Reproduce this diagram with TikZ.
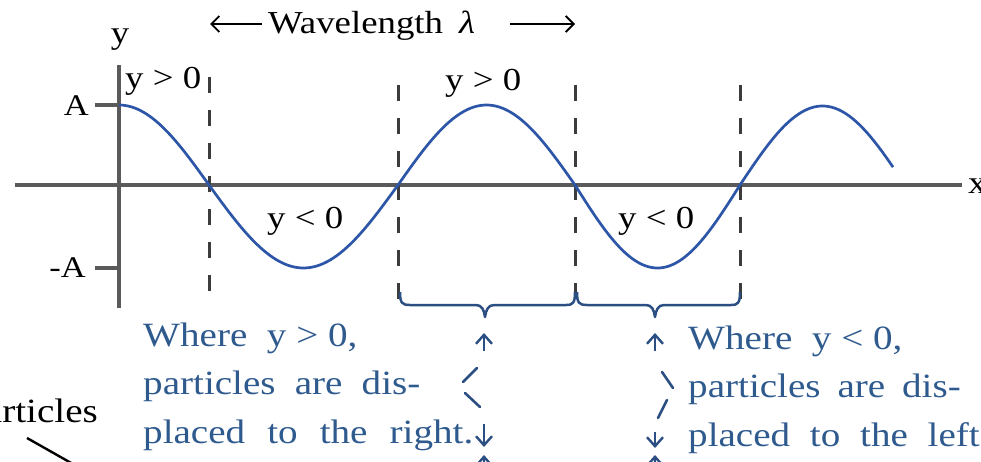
\documentclass[tikz,border=0pt]{standalone}
\usepackage{fontspec}
\setmainfont{Liberation Serif}
\usetikzlibrary{arrows.meta}
\definecolor{wblue}{HTML}{2D56A8}
\definecolor{tblue}{HTML}{2F5A8E}
\definecolor{bblue}{HTML}{2B4F82}
\definecolor{axgray}{HTML}{5A5A5A}
\definecolor{dgray}{HTML}{3C3C3C}
\newcommand\sx[1]{\scalebox{1.15}[1]{#1}}
\tikzset{
  axisline/.style={axgray,line width=3.6pt},
  guide/.style={dgray,line width=3pt,dash pattern=on 16pt off 17pt},
  wave/.style={wblue,line width=2.7pt},
  bracestyle/.style={bblue,line width=2.5pt,line join=round},
  lbl/.style={inner sep=0pt,font=\fontsize{32}{38}\selectfont,text=black},
  albl/.style={inner sep=0pt,font=\fontsize{30}{36}\selectfont,text=black},
  btxt/.style={inner sep=0pt,anchor=base west,font=\fontsize{34}{40}\selectfont,text=tblue},
  darr/.style={bblue,line width=2.4pt,-{Straight Barb[length=9pt,width=16pt,line width=2.4pt]}},
  dseg/.style={bblue,line width=2.6pt,line cap=round},
  topar/.style={black,line width=1.8pt,-{Straight Barb[length=8pt,width=16pt,line width=1.8pt]}}
}
\begin{document}
\begin{tikzpicture}[x=1pt,y=-1pt]
\useasboundingbox (0,0) rectangle (981,461);
\clip (0,0) rectangle (981,461);
% axes
\draw[axisline] (15,185) -- (962,185);
\draw[axisline] (119,65) -- (119,308);
\draw[axisline] (95,105) -- (119,105);
\draw[axisline] (95,268) -- (119,268);
\node[albl,anchor=base east] (A) at (89,115) {\sx{A}};
\node[albl,anchor=base east] (mA) at (86,277) {\sx{-A}};
\node[lbl] (ylab) at (120,40) {\sx{y}};
\node[lbl,anchor=west] (xlab) at (968,186) {\sx{x}};
% guides
\draw[guide] (209,77) -- (209,295);
\draw[guide] (398,85) -- (398,300);
\draw[guide] (575,85) -- (575,300);
\draw[guide] (740,85) -- (740,300);
% wave
\draw[wave,smooth] plot[domain=119:209,samples=30] (\x,{185-80*cos((\x-119)/90*90)})
  -- plot[domain=209:398,samples=60] (\x,{185+83*sin((\x-209)/189*180)})
  -- plot[domain=398:575,samples=60] (\x,{185-80*sin((\x-398)/177*180)})
  -- plot[domain=575:740,samples=60] (\x,{185+83*sin((\x-575)/165*180)})
  -- plot[domain=740:893,samples=60] (\x,{185-79*sin((\x-740)/165*180)});
% region labels
\node[lbl,anchor=base west] (g1) at (125,88) {\sx{y > 0}};
\node[lbl,anchor=base west] (g2) at (445,90) {\sx{y > 0}};
\node[lbl,anchor=base west] (l1) at (267,228) {\sx{y < 0}};
\node[lbl,anchor=base west] (l2) at (618,228) {\sx{y < 0}};
% wavelength
\node[lbl,anchor=base west] (wl) at (268,33) {\sx{Wavelength\hspace{14pt}\textit{λ}}};
\coordinate (la1) at (262,24); \coordinate (la2) at (210,24);
\coordinate (ra1) at (510,24); \coordinate (ra2) at (575,24);
\draw[topar] (la1) -- (la2);
\draw[topar] (ra1) -- (ra2);
% braces
\draw[bracestyle] (400,292) .. controls (400,303) and (402,305) .. (410,305) -- (476,305)
  .. controls (482,305) and (484,310) .. (485,317) .. controls (486,310) and (488,305) .. (494,305)
  -- (566,305) .. controls (573,305) and (575,303) .. (575,292);
\draw[bracestyle] (577,292) .. controls (577,303) and (579,305) .. (587,305) -- (646,305)
  .. controls (652,305) and (654,310) .. (655,317) .. controls (656,310) and (658,305) .. (664,305)
  -- (731,305) .. controls (738,305) and (740,303) .. (740,292);
% dashed double arrows
\draw[darr] (484,351) -- (484,333);
\draw[dseg] (477,368) -- (463,382);
\draw[dseg] (465,393) -- (480,407);
\draw[darr] (484,424) -- (484,447);
\draw[darr] (484,478) -- (484,455);
\draw[darr] (655,351) -- (655,333);
\draw[dseg] (662,372) -- (673,388);
\draw[dseg] (667,400) -- (658,418);
\draw[darr] (655,432) -- (655,448);
\draw[darr] (655,478) -- (655,455);
% blue texts
\node[btxt] (t1) at (143,346) {\sx{Where\ \ y > 0,}};
\node[btxt] (t2) at (143,394) {\sx{\makebox[241pt][s]{particles are dis-}}};
\node[btxt] (t3) at (143,443) {\sx{\makebox[287pt][s]{placed to the right.}}};
\node[btxt] (r1) at (688,349) {\sx{Where\ \ y < 0,}};
\node[btxt] (r2) at (688,397) {\sx{\makebox[237pt][s]{particles are dis-}}};
\node[btxt] (r3) at (688,446) {\sx{\makebox[262pt][s]{placed to the left.}}};
% particles label
\node[inner sep=0pt,anchor=base east,font=\fontsize{34}{40}\selectfont] (pl) at (98,422) {\sx{Particles}};
\coordinate (pe) at (80,468);
\draw[black,line width=2.4pt] (27,438) -- (pe);
\end{tikzpicture}
\end{document}
